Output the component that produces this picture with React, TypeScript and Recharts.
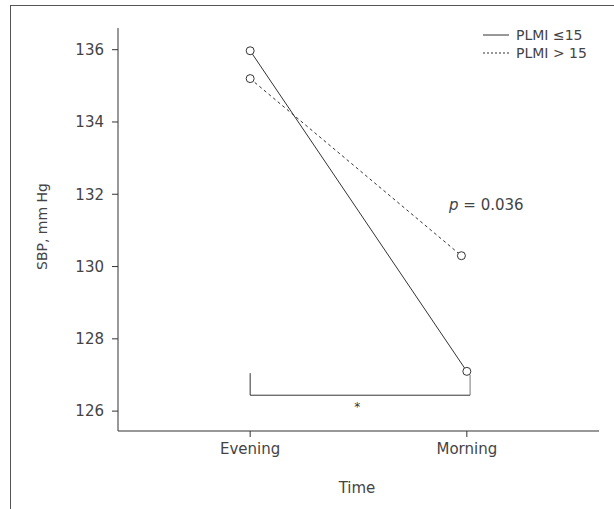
import React from "react";
import {
	Line,
	LineChart,
	XAxis,
	YAxis,
	ReferenceLine,
	ReferenceDot,
} from "recharts";

const timeLabels = ["Evening", "Morning"];
const timeTicks = [0, 1];
const yTicks = [126, 128, 130, 132, 134, 136];

// PLMI <= 15 (solid)
const lowPlmiX = [0, 1];
const lowPlmiSbp = [135.97, 127.1];
// PLMI > 15 (dashed), morning point sits slightly left in the figure
const highPlmiX = [0, 0.975];
const highPlmiSbp = [135.2, 130.3];

const lowData = lowPlmiX.map((x, i) => ({ x, sbp: lowPlmiSbp[i] }));
const highData = highPlmiX.map((x, i) => ({ x, sbp: highPlmiSbp[i] }));

const ink = "#333";
const textColor = "#444";
const font = "'DejaVu Sans', sans-serif";

const dot = { r: 4, fill: "#fff", stroke: ink, strokeWidth: 1, strokeDasharray: "none" };

function LegendBox() {
	const rows = [
		{ label: "PLMI \u226415", dash: undefined },
		{ label: "PLMI > 15", dash: "2 2" },
	];
	return (
		<div style={{ fontFamily: font, fontSize: 14, color: textColor }}>
			{rows.map((r) => (
				<div key={r.label} style={{ display: "flex", alignItems: "center", height: 18 }}>
					<svg width={35} height={10}>
						<line x1={2} y1={5} x2={28} y2={5} stroke={ink} strokeWidth={1} strokeDasharray={r.dash} />
					</svg>
					<span>{r.label}</span>
				</div>
			))}
		</div>
	);
}

export default function App() {
	return (
		<div style={{ position: "absolute", left: 0, top: 0, width: 614, height: 509, background: "#fff", overflow: "hidden" }}>
			<div
				style={{
					position: "absolute",
					left: 10,
					top: 5,
					width: 700,
					height: 600,
					borderLeft: "1px solid #555",
					borderTop: "1px solid #555",
				}}
			/>
			<div style={{ position: "absolute", left: 481, top: 26 }}>
				<LegendBox />
			</div>
			<div style={{ position: "absolute", left: 0, top: 0 }}>
				<LineChart width={614} height={509} margin={{ top: 28, right: 15, bottom: 18, left: 58 }}>
					<XAxis
						dataKey="x"
						type="number"
						domain={[-0.61, 1.61]}
						ticks={timeTicks}
						tickFormatter={(v) => timeLabels[v]}
						allowDataOverflow
						height={60}
						stroke={ink}
						tickSize={6}
						tickMargin={6}
						tick={{ fill: textColor, fontSize: 15, fontFamily: font }}
						label={({ viewBox }: any) => (
							<text
								x={357}
								y={viewBox.y + 57}
								textAnchor="middle"
								dominantBaseline="central"
								fill={textColor}
								fontSize={15}
								fontFamily={font}
							>
								Time
							</text>
						)}
					/>
					<YAxis
						type="number"
						domain={[125.45, 136.6]}
						ticks={yTicks}
						allowDataOverflow
						width={60}
						stroke={ink}
						tickSize={6}
						tickMargin={8}
						tick={{ fill: textColor, fontSize: 15, fontFamily: font }}
						label={({ viewBox }: any) => {
							const cy = viewBox.y + viewBox.height / 2 - 3;
							return (
								<text
									x={42}
									y={cy}
									transform={`rotate(-90 42 ${cy})`}
									textAnchor="middle"
									dominantBaseline="central"
									fill={textColor}
									fontSize={14}
									fontFamily={font}
								>
									SBP, mm Hg
								</text>
							);
						}}
					/>
					<ReferenceLine
						segment={[
							{ x: 0, y: 127.05 },
							{ x: 0, y: 126.44 },
						]}
						stroke={ink}
					/>
					<ReferenceLine
						segment={[
							{ x: 0, y: 126.44 },
							{ x: 1.015, y: 126.44 },
						]}
						stroke={ink}
					/>
					<ReferenceLine
						segment={[
							{ x: 1.015, y: 126.44 },
							{ x: 1.015, y: 127.0 },
						]}
						stroke="#777"
					/>
					<ReferenceDot
						x={0.494}
						y={126.11}
						r={0}
						label={({ viewBox }: any) => (
							<text
								x={viewBox.x}
								y={viewBox.y}
								textAnchor="middle"
								dominantBaseline="central"
								fill={ink}
								fontSize={12}
								fontFamily={font}
							>
								*
							</text>
						)}
					/>
					<ReferenceDot
						x={1.09}
						y={131.71}
						r={0}
						label={({ viewBox }: any) => (
							<text
								x={viewBox.x}
								y={viewBox.y}
								textAnchor="middle"
								dominantBaseline="central"
								fill={textColor}
								fontSize={15}
								fontFamily={font}
							>
								<tspan fontStyle="italic">p</tspan> = 0.036
							</text>
						)}
					/>
					<Line
						data={lowData}
						dataKey="sbp"
						name="PLMI \u226415"
						stroke={ink}
						strokeWidth={1}
						dot={dot}
						isAnimationActive={false}
					/>
					<Line
						data={highData}
						dataKey="sbp"
						name="PLMI > 15"
						stroke={ink}
						strokeWidth={1}
						strokeDasharray="3 3"
						dot={dot}
						isAnimationActive={false}
					/>
				</LineChart>
			</div>
		</div>
	);
}
